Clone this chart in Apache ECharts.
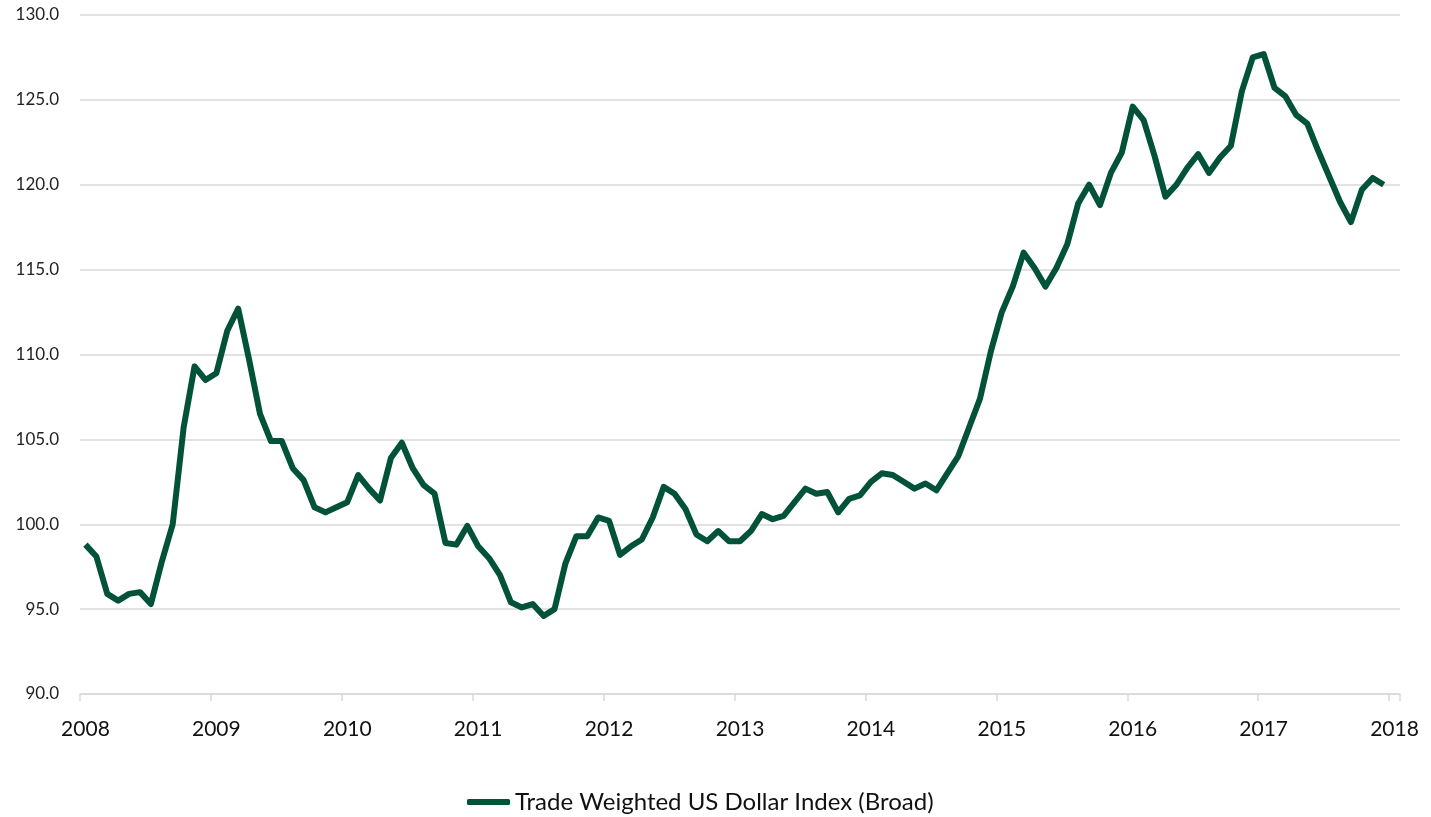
<!DOCTYPE html>
<html>
<head>
<meta charset="utf-8">
<title>Trade Weighted US Dollar Index (Broad)</title>
<script src="https://cdn.jsdelivr.net/npm/echarts@6/dist/echarts.min.js"></script>
<style>
  html, body { margin: 0; padding: 0; background: #ffffff; }
  #chart { width: 1431px; height: 817px; }
</style>
</head>
<body>
<div id="chart"></div>
<script>
// Year tick labels along the horizontal axis (axis runs Jan 2008 .. Jan 2018)
const yearLabels = ['2008', '2009', '2010', '2011', '2012', '2013', '2014', '2015', '2016', '2017', '2018'];

// Monthly index values, Jan 2008 .. Dec 2017
const values2008 = [98.8, 98.1, 95.9, 95.5, 95.9, 96.0, 95.3, 97.8, 100.0, 105.7, 109.3, 108.5];
const values2009 = [108.9, 111.4, 112.7, 109.7, 106.5, 104.9, 104.9, 103.3, 102.6, 101.0, 100.7, 101.0];
const values2010 = [101.3, 102.9, 102.1, 101.4, 103.9, 104.8, 103.3, 102.3, 101.8, 98.9, 98.8, 99.9];
const values2011 = [98.7, 98.0, 97.0, 95.4, 95.1, 95.3, 94.6, 95.0, 97.7, 99.3, 99.3, 100.4];
const values2012 = [100.2, 98.2, 98.7, 99.1, 100.4, 102.2, 101.8, 100.9, 99.4, 99.0, 99.6, 99.0];
const values2013 = [99.0, 99.6, 100.6, 100.3, 100.5, 101.3, 102.1, 101.8, 101.9, 100.7, 101.5, 101.7];
const values2014 = [102.5, 103.0, 102.9, 102.5, 102.1, 102.4, 102.0, 103.0, 104.0, 105.7, 107.4, 110.2];
const values2015 = [112.5, 114.0, 116.0, 115.1, 114.0, 115.1, 116.5, 118.9, 120.0, 118.8, 120.7, 121.9];
const values2016 = [124.6, 123.8, 121.7, 119.3, 120.0, 121.0, 121.8, 120.7, 121.6, 122.3, 125.5, 127.5];
const values2017 = [127.7, 125.7, 125.2, 124.1, 123.6, 122.0, 120.5, 119.0, 117.8, 119.7, 120.4, 120.0];

const seriesName = 'Trade Weighted US Dollar Index (Broad)';

const indexValues = [].concat(values2008, values2009, values2010, values2011, values2012,
  values2013, values2014, values2015, values2016, values2017);

// One category per month from Jan 2008 through Jan 2018
const monthCats = [];
yearLabels.forEach(function (y, yi) {
  const months = yi === yearLabels.length - 1 ? 1 : 12;
  for (let m = 1; m <= months; m++) {
    monthCats.push(y + '-' + (m < 10 ? '0' + m : m));
  }
});

const isYearStart = function (idx) { return idx % 12 === 0; };

const chart = echarts.init(document.getElementById('chart'), null, { renderer: 'canvas' });

chart.setOption({
  backgroundColor: '#ffffff',
  animation: false,
  grid: { left: 80, right: 31, top: 15, bottom: 123, containLabel: false },
  legend: {
    show: true,
    left: 467,
    top: 790,
    padding: 0,
    icon: 'roundRect',
    itemWidth: 43,
    itemHeight: 6,
    textStyle: { fontFamily: 'Lato', fontSize: 24, color: '#111111' },
    data: [seriesName]
  },
  xAxis: {
    type: 'category',
    data: monthCats,
    boundaryGap: true,
    axisLine: { show: true, lineStyle: { color: '#d9d9d9', width: 1.5 } },
    axisTick: { show: true, interval: isYearStart, length: 7, lineStyle: { color: '#d9d9d9', width: 1.5 } },
    axisLabel: {
      interval: isYearStart,
      margin: 25,
      fontFamily: 'Lato',
      fontSize: 21,
      color: '#111111',
      formatter: function (v) { return v.slice(0, 4); }
    },
    splitLine: { show: false }
  },
  yAxis: {
    type: 'value',
    min: 90,
    max: 130,
    interval: 5,
    axisLine: { show: false },
    axisTick: { show: false },
    axisLabel: {
      margin: 21,
      fontFamily: 'Lato',
      fontSize: 17,
      color: '#222222',
      formatter: function (v) { return v.toFixed(1); }
    },
    splitLine: { show: true, lineStyle: { color: '#d9d9d9', width: 1.5 } }
  },
  series: [{
    name: seriesName,
    type: 'line',
    data: indexValues,
    showSymbol: false,
    symbol: 'none',
    lineStyle: { color: '#02523a', width: 6, join: 'round', cap: 'butt' },
    itemStyle: { color: '#02523a' }
  }]
});
</script>
</body>
</html>
